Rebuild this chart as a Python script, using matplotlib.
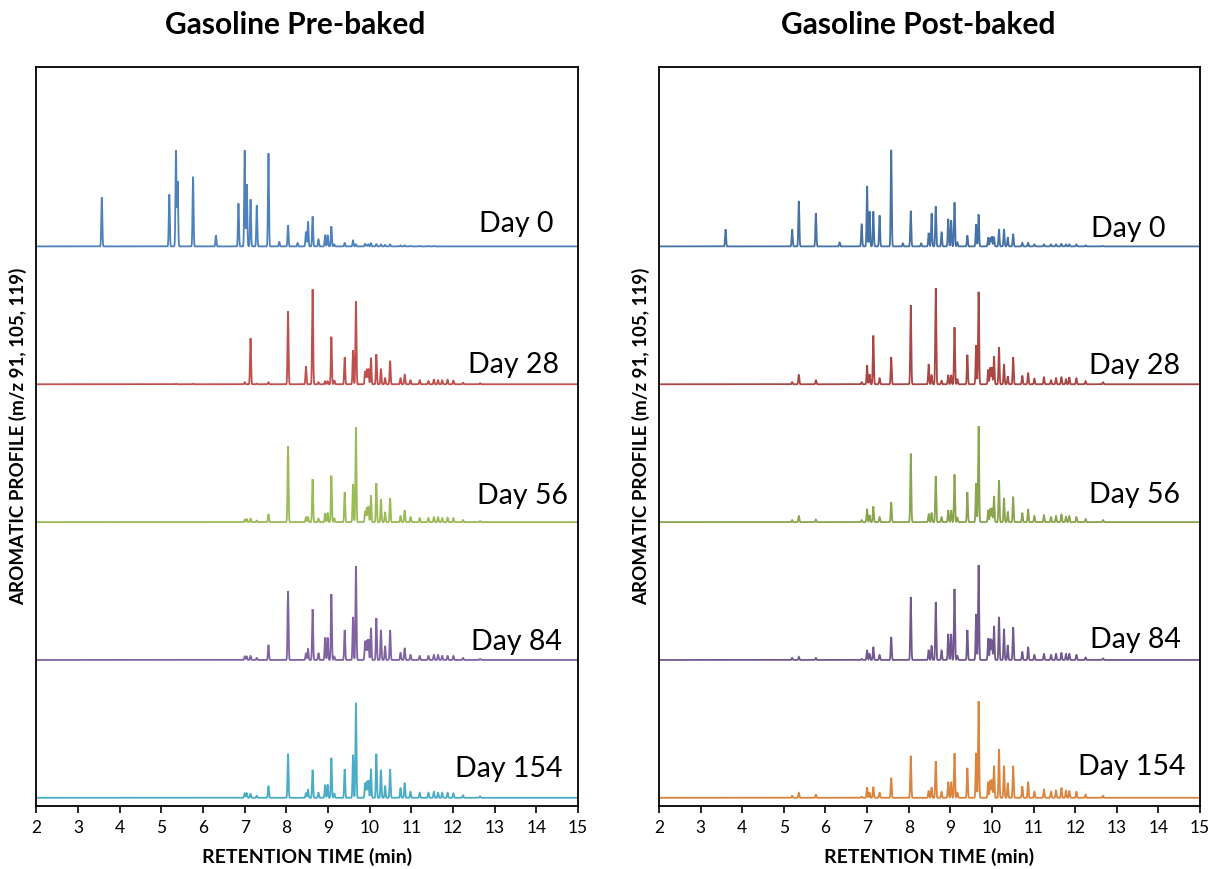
import numpy as np
import matplotlib
matplotlib.use("Agg")
import matplotlib.pyplot as plt

plt.rcParams['font.family'] = ['Lato', 'DejaVu Sans']

# ---------------- data ----------------
days = ["Day 0", "Day 28", "Day 56", "Day 84", "Day 154"]

# Pre-baked: retention times (min) of resolved peaks
pre_rt = [3.57, 5.19, 5.35, 5.39, 5.76, 6.31, 6.85, 7.00, 7.05, 7.14, 7.29, 7.57, 7.83, 8.04,
          8.27, 8.47, 8.52, 8.63, 8.77, 8.93, 8.99, 9.08, 9.15, 9.40, 9.60, 9.67, 9.89, 9.93,
          9.97, 10.03, 10.16, 10.27, 10.37, 10.49, 10.74, 10.84, 10.98, 11.20, 11.41, 11.54,
          11.64, 11.74, 11.87, 12.01, 12.24, 12.65]
pre_day0 = [49, 52, 96, 65, 69, 11, 43, 96, 62, 47, 41, 93, 4.5, 21,
            3.4, 14.5, 25, 30, 7, 11, 11, 20, 2, 3.4, 6, 2, 2.5, 1,
            2, 3, 2.5, 2, 1.5, 2, 1, 1, 0.5, 0.5, 0.5, 0.5,
            0, 0, 0, 0, 0, 0]
pre_day28 = [0, 0, 0.5, 0, 0.5, 0, 0, 2, 0, 46, 0.5, 2, 0, 73,
             0, 18, 0, 95, 2, 3, 3, 47.5, 4, 27, 34, 83, 13, 14.5,
             15.5, 26.5, 30, 15.5, 6, 23.5, 6, 9.6, 4, 4, 3, 5,
             4, 4, 4.5, 3.5, 1.5, 1]
pre_day56 = [0, 0, 0, 0, 0, 0, 0, 3, 3, 3.5, 1.5, 8, 0, 76,
             0, 5, 5, 43, 3.5, 9, 9, 46.5, 4, 30, 38, 95, 11, 14.5,
             15.5, 27, 39, 23, 10, 24, 6, 12, 5, 4, 4, 5,
             5, 4, 4.5, 4, 2, 1]
pre_day84 = [0, 0, 0, 0, 0, 0, 0, 3.5, 3.5, 4, 2, 15, 0, 69,
             0, 7, 11, 50.6, 7, 22.4, 22.4, 66, 3.5, 30, 43, 94, 19, 19.6,
             20.6, 32, 42, 30, 14, 30, 7, 12, 5, 4, 4, 5,
             5, 4, 4, 4, 2, 1]
pre_day154 = [0, 0, 0, 0, 0, 0, 0, 4.5, 4.5, 4, 2, 12, 0, 44,
              0, 4.5, 8, 28, 5, 13, 13, 40, 4.5, 28.6, 43, 95, 15, 15.5,
              17.5, 29, 44, 28, 12, 28.6, 9.6, 15, 6, 5, 5, 6,
              5, 5, 5, 4.5, 2.5, 1.5]

# Post-baked
post_rt = [3.60, 5.20, 5.36, 5.77, 6.34, 6.87, 7.00, 7.06, 7.15, 7.30, 7.58, 7.86, 8.05, 8.30,
           8.48, 8.55, 8.65, 8.79, 8.95, 9.02, 9.10, 9.17, 9.41, 9.62, 9.68, 9.91, 9.96, 10.00,
           10.05, 10.17, 10.29, 10.38, 10.51, 10.73, 10.87, 11.02, 11.25, 11.42, 11.54, 11.67,
           11.78, 11.86, 12.03, 12.25, 12.67]
post_day0 = [17, 17, 45.5, 33, 4, 22, 60.5, 35, 35, 31, 96.6, 3, 35.5, 3,
             13.5, 33, 40, 14, 27.5, 26, 44, 4, 11, 22, 32, 9, 8, 10,
             9, 17, 17, 9, 12.5, 3.5, 3.5, 2, 2, 2, 2, 2.5,
             2, 2, 2, 1, 0.5]
post_day28 = [0, 2, 9.7, 4, 0, 2, 19, 10, 48.7, 6, 27, 0, 79, 0,
              20, 9, 96, 3.5, 9.4, 9.4, 57, 5, 29.5, 39, 92.5, 14.6, 16.3, 16.7,
              28, 37, 20, 8, 27, 8.7, 11.5, 5.5, 7, 4, 6, 7,
              5, 7, 6, 3, 2]
post_day56 = [0, 2, 6, 2.5, 0, 2, 13, 7, 15.6, 5, 20, 0, 68.5, 0,
              8, 9.4, 46, 5, 12, 12, 47.6, 4.5, 30, 39, 96, 12, 13, 14,
              26, 41.7, 24, 10.4, 25.4, 9.4, 13, 6, 7, 5, 6, 8,
              6, 6, 5, 3, 2]
post_day84 = [0, 2, 3, 2, 0, 1, 10, 6, 13, 5, 23, 0, 63, 0,
              10, 14, 58, 9.4, 26, 26, 71, 4, 30, 46, 95, 21.5, 21, 20,
              34, 43, 31, 14.6, 32.7, 8.3, 13, 5, 6, 5, 6, 7,
              6, 6, 5, 2.5, 1.5]
post_day154 = [0, 2, 5, 3, 0, 1, 10.4, 5, 11, 5, 20, 0, 42, 0,
               7, 10.4, 36.5, 6, 16, 16, 44.5, 5, 30, 45, 96.6, 16, 17, 18,
               32, 48.7, 32, 14.6, 32, 11.5, 16, 6, 8.7, 6, 7.6, 10,
               7, 7, 6, 3, 2]

xticks = list(range(2, 16))

# ---------------- style / layout ----------------
pre_colors = ["#4F81BD", "#C0504D", "#9BBB59", "#8064A2", "#4BACC6"]
post_colors = ["#4572A7", "#AA4643", "#89A54E", "#71588F", "#DB843D"]

FIG_W, FIG_H = 1210, 869
OFFSET = 137.85
SIGMA = 0.012

t = np.linspace(2, 15, 8667)


def trace(rt, h):
    rt = np.asarray(rt)[:, None]
    h = np.asarray(h, dtype=float)[:, None]
    return (h * np.exp(-0.5 * ((t[None, :] - rt) / SIGMA) ** 2)).sum(axis=0)


fig = plt.figure(figsize=(FIG_W / 100, FIG_H / 100), dpi=100)

top_px, bot_px = 67, 806.4


def make_ax(x0, x1):
    return fig.add_axes([x0 / FIG_W, 1 - bot_px / FIG_H, (x1 - x0) / FIG_W, (bot_px - top_px) / FIG_H])


panels = [
    dict(ax=make_ax(36.4, 578), rt=pre_rt,
         series=[pre_day0, pre_day28, pre_day56, pre_day84, pre_day154],
         colors=pre_colors, title="Gasoline Pre-baked", title_x=295.5,
         lab_x=[14.40, 14.55, 14.76, 14.62, 14.62],
         lab_dy=[14.4, 11.0, 18.3, 10.3, 21.0]),
    dict(ax=make_ax(659, 1200), rt=post_rt,
         series=[post_day0, post_day28, post_day56, post_day84, post_day154],
         colors=post_colors, title="Gasoline Post-baked", title_x=918,
         lab_x=[14.16, 14.53, 14.53, 14.53, 14.66],
         lab_dy=[9.8, 10.4, 19.2, 12.2, 22.6]),
]

for p in panels:
    ax = p["ax"]
    n = len(p["series"])
    for i, (vals, col) in enumerate(zip(p["series"], p["colors"])):
        base = (n - 1 - i) * OFFSET
        ax.plot(t, base + trace(p["rt"], vals), color=col, lw=1.3, solid_joinstyle='miter')
        ax.text(p["lab_x"][i], base + p["lab_dy"][i], days[i], ha='right', va='baseline',
                fontsize=20.5, color='black')
    ax.set_xlim(2, 15)
    ax.set_ylim(-8.6, 4 * OFFSET + 179.4)
    ax.set_xticks(xticks)
    ax.set_yticks([])
    ax.tick_params(axis='x', direction='out', length=5, width=1.2, labelsize=12.5, pad=5, color='black')
    for s in ax.spines.values():
        s.set_linewidth(1.3)
        s.set_color('black')
    pos = ax.get_position()
    cx = (pos.x0 + pos.x1) / 2
    fig.text(p["title_x"] / FIG_W, 1 - 25 / FIG_H, p["title"], ha='center', va='center',
             fontsize=21.5, fontweight='bold')
    fig.text(cx, 1 - 857 / FIG_H, "RETENTION TIME (min)", ha='center', va='center',
             fontsize=14, fontweight='bold')
    fig.text(pos.x0 - 18 / FIG_W, 1 - 436 / FIG_H, "AROMATIC PROFILE (m/z 91, 105, 119)", rotation=90,
             ha='center', va='center', fontsize=13.5, fontweight='bold')

fig.savefig("out.png", dpi=100)
